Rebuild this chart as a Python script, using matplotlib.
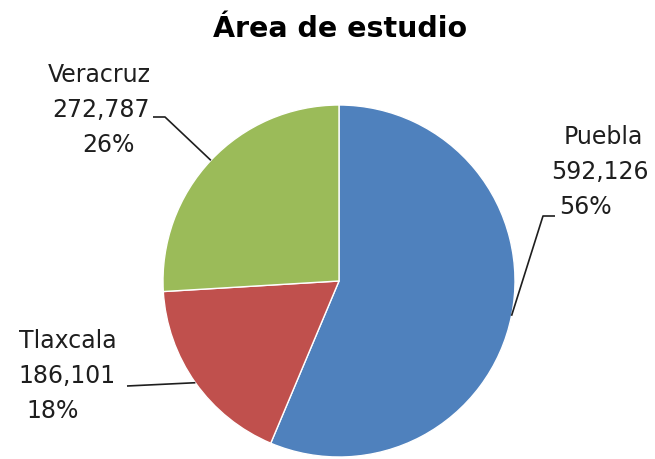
import numpy as np
import matplotlib
matplotlib.use("Agg")
import matplotlib.pyplot as plt

# data
estados = ["Puebla", "Tlaxcala", "Veracruz"]
poblacion = [592126, 186101, 272787]
colores = ["#4F81BD", "#C0504D", "#9BBB59"]

W, H = 655, 460
fig = plt.figure(figsize=(W / 100, H / 100), dpi=100)
ax = fig.add_axes([0, 0, 1, 1])

cx, cy, r = 339, H - 282, 176
wedges, _ = ax.pie(poblacion, colors=colores, startangle=90, counterclock=False,
                   center=(cx, cy), radius=r, frame=True,
                   wedgeprops=dict(edgecolor="white", linewidth=1))
ax.set_xlim(0, W)
ax.set_ylim(0, H)
ax.set_aspect("equal")
ax.axis("off")

total = sum(poblacion)
pct = [round(100 * v / total) for v in poblacion]

# per-line label positions (x centre, baseline, pixels from top-left)
label_x = {"Puebla": (603, 600, 585), "Tlaxcala": (68, 67, 53), "Veracruz": (99, 101, 108)}
label_y = {"Puebla": 144, "Tlaxcala": 348, "Veracruz": 82}
line_gap = 35
# leader line corners
elbow = {"Puebla": [(543, 217), (555, 217)],
         "Tlaxcala": [(127, 387)],
         "Veracruz": [(165, 118), (153, 118)]}

for w, name, v, p in zip(wedges, estados, poblacion, pct):
    lines = [name, f"{v:,}", f"{p}%"]
    for i, (s, x) in enumerate(zip(lines, label_x[name])):
        ax.text(x, H - (label_y[name] + i * line_gap), s, ha="center", va="baseline",
                fontsize=17, color="#1e1e1e")
    ang = np.deg2rad((w.theta1 + w.theta2) / 2)
    px, py = cx + r * np.cos(ang), cy + r * np.sin(ang)
    xs = [px] + [x for x, y in elbow[name]]
    ys = [py] + [H - y for x, y in elbow[name]]
    ax.plot(xs, ys, color="#1e1e1e", lw=1.2, solid_capstyle="butt")

ax.text(340, H - 37, "Área de estudio", ha="center", va="baseline",
        fontsize=20.5, fontweight="bold", color="black")

fig.savefig("out.png", dpi=100, facecolor="white")
